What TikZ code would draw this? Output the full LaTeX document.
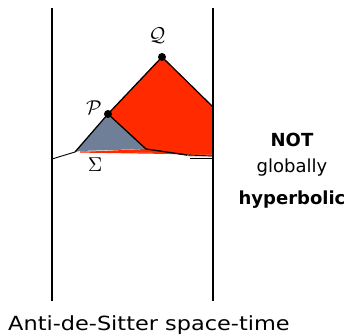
\documentclass[tikz,border=0pt]{standalone}
\usepackage{fontspec}
\setmainfont{DejaVu Sans}
\newfontfamily\widesans[FakeStretch=1.15]{DejaVu Sans}
\usetikzlibrary{calc,positioning}
\definecolor{RegionRed}{HTML}{FF2A00}
\definecolor{DomainGray}{HTML}{6F7F98}
\tikzset{
  wall/.style={draw=black,line width=2.6pt},
  edge/.style={draw=black,line width=1.3pt},
  slice/.style={draw=black,line width=.9pt},
  spot/.style={circle,fill=black,inner sep=0pt,minimum size=8pt},
  ptlabel/.style={scale=2,transform shape,inner sep=0pt},
  sidelabel/.style={font=\fontsize{18}{20}\selectfont,inner sep=0pt,anchor=base}
}

\begin{document}
\begin{tikzpicture}[x=1pt,y=-1pt]
  \useasboundingbox (0,0) rectangle (346,336);
  % boundary of AdS
  \coordinate (LT) at (52,8);
  \coordinate (LB) at (52,301);
  \coordinate (RT) at (213,8);
  \coordinate (RB) at (213,301);
  % points and surface
  \coordinate (Q) at (162,57);
  \coordinate (P) at (108,114);
  \coordinate (S0) at (52,159);
  \coordinate (S1) at (75,152);
  \coordinate (T1) at (146,149);
  \coordinate (S2) at (187,155);
  \coordinate (S3) at (213,156);
  \coordinate (RQ) at (213,107);

  \fill[RegionRed] (P)--(Q)--(RQ)--(S3)--(S2)--(T1)--cycle;
  \fill[RegionRed] (T1)--(S2)--(175,153)--(80,152)--cycle;
  \fill[DomainGray] (S1)--(P)--(T1)--(80,151)--cycle;
  \draw[RegionRed,line width=1.2pt] (80,152)--(176,153.5);
  \fill[black!15] (187,155)--(213,155)--(213,157.5)--(190,157.5)--cycle;

  \draw[edge] (S1)--(P)--(Q)--(RQ);
  \draw[edge] (P)--(T1)--(S2);
  \draw[slice] (S0)--(S1);
  \draw[slice] (176,153.5)--(S2)--(S3);
  \draw[slice] (190,158)--(213,158);

  \draw[wall] (LT)--(LB);
  \draw[wall] (RT)--(RB);

  \node[spot] (q) at (Q) {};
  \node[spot] (p) at (P) {};
  \node[ptlabel] (qlab) at (157,36) {$\mathcal{Q}$};
  \node[ptlabel] (plab) at (94,108) {$\mathcal{P}$};
  \node[ptlabel] (slab) at (95,165) {$\Sigma$};

  \node[sidelabel] (not) at (292,147) {\textbf{NOT}};
  \node[sidelabel] (glob) at (292,173) {globally};
  \node[sidelabel] (hyp) at (292,205) {\textbf{hyperbolic}};
  \node[font=\widesans\fontsize{19.5}{22}\selectfont,anchor=base west,inner sep=0pt]
    (ads) at (8,331) {Anti-de-Sitter space-time};
\end{tikzpicture}
\end{document}
